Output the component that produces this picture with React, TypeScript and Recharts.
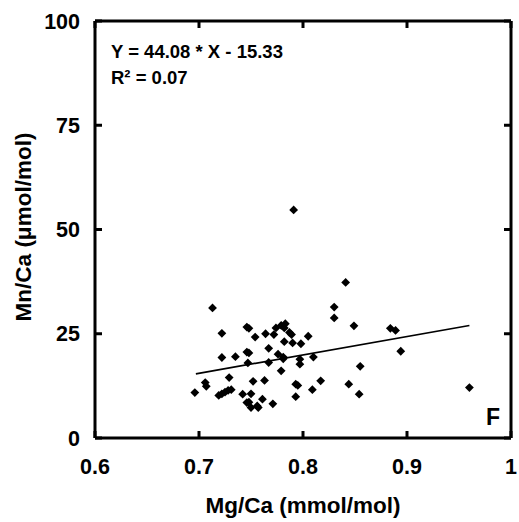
import React from 'react';
import { ScatterChart, Scatter, XAxis, YAxis, Customized } from 'recharts';

// Mg/Ca (mmol/mol) and Mn/Ca (umol/mol)
const mgCa = [
  0.713, 0.722, 0.746, 0.748, 0.754, 0.764, 0.772, 0.774, 0.782, 0.783,
  0.787, 0.789, 0.782, 0.79, 0.798, 0.805, 0.83, 0.83, 0.841, 0.722,
  0.735, 0.746, 0.748, 0.747, 0.767, 0.767, 0.776, 0.781, 0.781, 0.797,
  0.797, 0.81, 0.779, 0.729, 0.706, 0.707, 0.696, 0.719, 0.722, 0.725,
  0.728, 0.731, 0.742, 0.752, 0.763, 0.75, 0.748, 0.746, 0.75, 0.757,
  0.756, 0.761, 0.771, 0.793, 0.795, 0.793, 0.809, 0.817, 0.844, 0.849,
  0.884, 0.889, 0.894, 0.855, 0.854, 0.96, 0.791, 0.779,
];
const mnCa = [
  31.2, 25.1, 26.6, 26.3, 24.2, 25.0, 24.8, 26.4, 26.4, 27.4,
  25.3, 24.8, 23.1, 22.8, 22.6, 24.4, 31.4, 28.8, 37.3, 19.3,
  19.5, 20.6, 20.4, 18.0, 21.5, 18.1, 20.1, 19.4, 19.0, 18.9,
  17.7, 19.4, 16.1, 14.5, 13.3, 12.4, 10.9, 10.2, 10.6, 11.0,
  11.4, 11.6, 10.5, 13.6, 13.8, 10.6, 8.6, 8.5, 7.3, 7.3,
  7.7, 9.3, 8.2, 12.9, 12.6, 9.9, 11.6, 13.7, 12.9, 26.9,
  26.3, 25.8, 20.8, 17.2, 10.5, 12.1, 54.7, 27.0,
];

const xTicks = [0.6, 0.7, 0.8, 0.9, 1];
const yTicks = [0, 25, 50, 75, 100];

// regression shown in the panel
const fitSlope = 44.08;
const fitIntercept = -15.33;
const fitRange = [0.697, 0.96];

const points = mgCa.map((x, i) => ({ x, y: mnCa[i] }));
const fitData = fitRange.map((x) => ({ x, y: fitSlope * x + fitIntercept }));

const FONT = '"Liberation Sans", Arial, sans-serif';
const TICK_LEN = 7;

const BottomTick = (props: any) => {
  const { x, y, payload } = props;
  return (
    <g>
      <line x1={x} y1={y} x2={x} y2={y - TICK_LEN} stroke="#000" strokeWidth={3} />
      <text x={x} y={y + 36} textAnchor="middle" fontFamily={FONT} fontWeight="bold" fontSize={21.5} fill="#000">
        {String(payload.value)}
      </text>
    </g>
  );
};

const LeftTick = (props: any) => {
  const { x, y, payload } = props;
  return (
    <g>
      <line x1={x} y1={y} x2={x + TICK_LEN} y2={y} stroke="#000" strokeWidth={3} />
      <text x={x - 15} y={y + 7.5} textAnchor="end" fontFamily={FONT} fontWeight="bold" fontSize={21.5} fill="#000">
        {String(payload.value)}
      </text>
    </g>
  );
};

const TopTick = (props: any) => {
  const { x, y } = props;
  return <line x1={x} y1={y} x2={x} y2={y + TICK_LEN} stroke="#000" strokeWidth={3} />;
};

const RightTick = (props: any) => {
  const { x, y } = props;
  return <line x1={x} y1={y} x2={x - TICK_LEN} y2={y} stroke="#000" strokeWidth={3} />;
};

const Diamond = (props: any) => {
  const { cx, cy } = props;
  const r = 4.4;
  return <path d={`M${cx},${cy - r}L${cx + r},${cy}L${cx},${cy + r}L${cx - r},${cy}Z`} fill="#000" />;
};

const NoShape = () => <g />;

const Annotations = () => (
  <g fontFamily={FONT} fontWeight="bold" fill="#000">
    <text x={111} y={58} fontSize={18.5}>Y = 44.08 * X - 15.33</text>
    <text x={111} y={84} fontSize={18.5}>R² = 0.07</text>
    <text x={500} y={425} fontSize={23} textAnchor="end">F</text>
    <text x={303} y={513} fontSize={22.5} textAnchor="middle">Mg/Ca (mmol/mol)</text>
    <text x={0} y={0} fontSize={22.5} textAnchor="middle" transform="translate(31,227) rotate(-90)">
      Mn/Ca (μmol/mol)
    </text>
  </g>
);

export default function App() {
  return (
    <div style={{ position: 'absolute', left: 0, top: 0 }}>
      <ScatterChart width={519} height={522} margin={{ top: 0, right: 0, bottom: 0, left: 0 }}>
        <XAxis
          xAxisId="b"
          dataKey="x"
          type="number"
          domain={[0.6, 1]}
          ticks={xTicks}
          height={84}
          tickSize={0}
          tickMargin={0}
          tickLine={false}
          axisLine={{ stroke: '#000', strokeWidth: 3 }}
          tick={BottomTick}
          interval={0}
        />
        <XAxis
          xAxisId="t"
          orientation="top"
          dataKey="x"
          type="number"
          domain={[0.6, 1]}
          ticks={xTicks}
          height={21}
          tickSize={0}
          tickMargin={0}
          tickLine={false}
          axisLine={{ stroke: '#000', strokeWidth: 3 }}
          tick={TopTick}
          interval={0}
        />
        <YAxis
          yAxisId="l"
          dataKey="y"
          type="number"
          domain={[0, 100]}
          ticks={yTicks}
          width={95}
          tickSize={0}
          tickMargin={0}
          tickLine={false}
          axisLine={{ stroke: '#000', strokeWidth: 3 }}
          tick={LeftTick}
          interval={0}
        />
        <YAxis
          yAxisId="r"
          orientation="right"
          dataKey="y"
          type="number"
          domain={[0, 100]}
          ticks={yTicks}
          width={8}
          tickSize={0}
          tickMargin={0}
          tickLine={false}
          axisLine={{ stroke: '#000', strokeWidth: 3 }}
          tick={RightTick}
          interval={0}
        />
        <Scatter
          xAxisId="b"
          yAxisId="l"
          data={points}
          shape={Diamond}
          isAnimationActive={false}
        />
        <Scatter
          xAxisId="t"
          yAxisId="r"
          data={fitData}
          line={{ stroke: '#000', strokeWidth: 1.7 }}
          shape={NoShape}
          isAnimationActive={false}
        />
        <Customized component={Annotations} />
      </ScatterChart>
    </div>
  );
}
